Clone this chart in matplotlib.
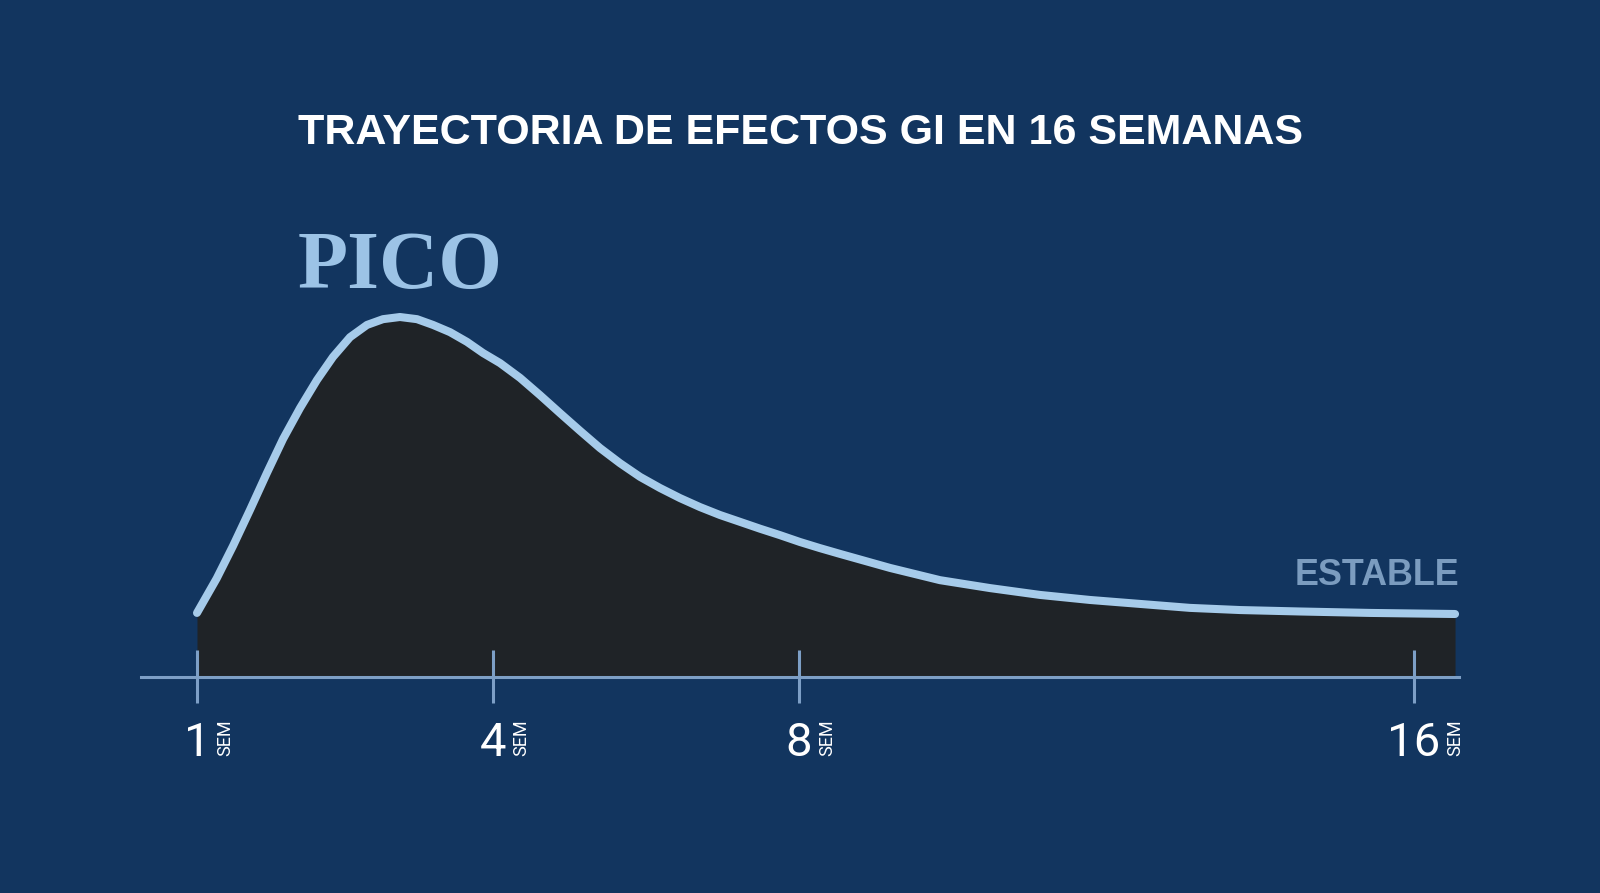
import numpy as np
import matplotlib
matplotlib.use("Agg")
import matplotlib.pyplot as plt

# data: GI effect intensity (peak = 100) by week
weeks = [1.0, 1.20, 1.365, 1.537, 1.709, 1.872, 2.044, 2.216, 2.378, 2.551, 2.723,
         2.885, 3.057, 3.230, 3.392, 3.564, 3.736, 3.899, 4.092, 4.353, 4.614, 4.876,
         5.137, 5.399, 5.660, 5.922, 6.183, 6.444, 6.706, 6.967, 7.229, 7.490, 7.752,
         8.013, 8.273, 8.533, 9.184, 9.834, 10.485, 11.135, 11.785, 12.436,
         13.086, 13.737, 14.517, 15.428, 16.534]
intensity = [17.8, 27.4, 36.4, 46.4, 56.7, 66.1, 74.7, 82.5, 88.9, 94.4, 97.8,
             99.4, 100.0, 99.4, 97.8, 95.8, 93.1, 90.0, 87.2, 83.1, 78.3, 73.3,
             68.4, 63.6, 59.4, 55.6, 52.5, 49.7, 47.2, 45.0, 43.1, 41.2, 39.4,
             37.5, 35.8, 34.2, 30.3, 26.9, 24.7, 22.8, 21.4, 20.3,
             19.2, 18.6, 18.2, 17.8, 17.5]
tick_weeks = [1, 4, 8, 16]
tick_labels = ["1", "4", "8", "16"]

title = "TRAYECTORIA DE EFECTOS GI EN 16 SEMANAS"

BG = "#12355f"
FILL = "#1f2327"
LINE = "#a6cbea"
AXIS = "#7d9fc6"

# uneven week spacing as drawn in the reference (week -> pixel position)
scale_w = np.array([1.0, 4.0, 8.0, 16.0])
scale_p = np.array([197.0, 493.0, 799.0, 1414.0])


def fwd(x):
    x = np.asarray(x, dtype=float)
    out = np.interp(x, scale_w, scale_p)
    lo = scale_p[0] + (x - scale_w[0]) * (scale_p[1] - scale_p[0]) / (scale_w[1] - scale_w[0])
    hi = scale_p[-1] + (x - scale_w[-1]) * (scale_p[-1] - scale_p[-2]) / (scale_w[-1] - scale_w[-2])
    return np.where(x < scale_w[0], lo, np.where(x > scale_w[-1], hi, out))


def inv(p):
    p = np.asarray(p, dtype=float)
    out = np.interp(p, scale_p, scale_w)
    lo = scale_w[0] + (p - scale_p[0]) * (scale_w[1] - scale_w[0]) / (scale_p[1] - scale_p[0])
    hi = scale_w[-1] + (p - scale_p[-1]) * (scale_w[-1] - scale_w[-2]) / (scale_p[-1] - scale_p[-2])
    return np.where(p < scale_p[0], lo, np.where(p > scale_p[-1], hi, out))


fig = plt.figure(figsize=(16, 8.93), dpi=100, facecolor=BG)
ax = fig.add_axes([0, 0, 1, 1])
ax.set_facecolor(BG)
ax.set_xscale("function", functions=(fwd, inv))
ax.set_xlim(float(inv(0)), float(inv(1600)))
ax.set_ylim(-60.0, 188.06)
ax.axis("off")

# filled area + outline
ax.fill_between(weeks, intensity, 0, color=FILL, lw=0, zorder=2)
ax.plot(weeks, intensity, color=LINE, lw=5.8, solid_capstyle="round",
        solid_joinstyle="round", zorder=4)

# baseline axis + ticks
ax.plot([float(inv(141)), float(inv(1459))], [0, 0], color=AXIS, lw=2.2, zorder=3)
ax.vlines(tick_weeks, -7.2, 7.5, color=AXIS, lw=2.2, zorder=3)

for w, lab in zip(tick_weeks, tick_labels):
    t = ax.text(w, -21.9, lab, color="white", fontsize=34, family="Roboto",
                ha="center", va="baseline", zorder=5)
    ax.annotate("SEM", xy=(1, 0.0), xycoords=t, xytext=(4, 6.5),
                textcoords="offset points", rotation=90, ha="left", va="bottom",
                color="white", fontsize=13, family="Roboto", zorder=5)

# labels
fig.text(0.5, 1 - 144 / 893, title, color="white", fontsize=31,
         family="Liberation Sans", weight="bold", ha="center", va="baseline")
ax.text(float(inv(298)), 108.1, "PICO", color="#9cc3e6", fontsize=59,
        family="Liberation Serif", weight="bold", ha="left", va="baseline")
ax.text(float(inv(1459)), 25.6, "ESTABLE", color="#7b9cbf", fontsize=25.8,
        family="Liberation Sans", weight="bold", ha="right", va="baseline")

fig.savefig("out.png", dpi=100, facecolor=BG)
